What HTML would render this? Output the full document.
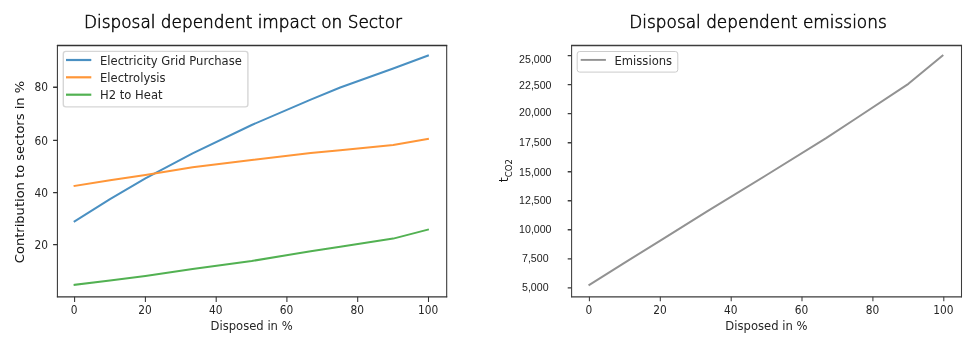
<!DOCTYPE html>
<html lang="en"><head><meta charset="utf-8"><title>Disposal dependent charts</title>
<style>
html,body{margin:0;padding:0;background:#fff;}
body{width:978px;height:343px;overflow:hidden;}
svg{display:block;}
.mp{font-family:"DejaVu Sans","Liberation Sans",sans-serif;font-size:12.5px;fill:#262626;}
.ttl{font-family:"DejaVu Sans Light","DejaVu Sans","Liberation Sans",sans-serif;font-weight:200;font-size:16.92px;fill:#0a0a0a;stroke:#0a0a0a;stroke-width:0.55px;}
.yl{font-family:"DejaVu Sans","Liberation Sans",sans-serif;font-size:13.05px;fill:#111;}
.rt{font-family:"Liberation Sans","DejaVu Sans",sans-serif;font-size:10.6px;fill:#222;}
.ln{fill:none;stroke-linejoin:round;stroke-linecap:square;}
</style></head><body>
<svg width="978" height="343" viewBox="0 0 978 343">
<rect x="0" y="0" width="978" height="343" fill="#ffffff"/>

<text class="ttl" x="84.0" y="27.6">Disposal dependent impact on Sector</text>
<text class="ttl" x="629.3" y="27.6">Disposal dependent emissions</text>
<rect x="57.4" y="45.5" width="389.3" height="251.4" fill="#fff"/>
<path d="M57.4 45.03V297.33M446.7 45.03V297.33" stroke="#333" stroke-width="1.05" fill="none"/>
<path d="M56.88 45.5H447.22M56.88 296.85H447.22" stroke="#333" stroke-width="1.35" fill="none"/>
<path d="M74.6 296.85V301.9M145.4 296.85V301.9M216.2 296.85V301.9M286.9 296.85V301.9M357.7 296.85V301.9M428.5 296.85V301.9" stroke="#333" stroke-width="1.05" fill="none"/>
<path d="M57.4 244.6h-4.3M57.4 192.6h-4.3M57.4 140.3h-4.3M57.4 87.2h-4.3" stroke="#333" stroke-width="1.35" fill="none"/>
<text class="mp" transform="translate(74.2 313.9) scale(0.85 1)" text-anchor="middle">0</text>
<text class="mp" transform="translate(145.0 313.9) scale(0.85 1)" text-anchor="middle">20</text>
<text class="mp" transform="translate(215.8 313.9) scale(0.85 1)" text-anchor="middle">40</text>
<text class="mp" transform="translate(286.5 313.9) scale(0.85 1)" text-anchor="middle">60</text>
<text class="mp" transform="translate(357.3 313.9) scale(0.85 1)" text-anchor="middle">80</text>
<text class="mp" transform="translate(428.1 313.9) scale(0.85 1)" text-anchor="middle">100</text>
<text class="mp" transform="translate(47.9 248.8) scale(0.85 1)" text-anchor="end">20</text>
<text class="mp" transform="translate(47.9 196.8) scale(0.85 1)" text-anchor="end">40</text>
<text class="mp" transform="translate(47.9 144.5) scale(0.85 1)" text-anchor="end">60</text>
<text class="mp" transform="translate(47.9 91.4) scale(0.85 1)" text-anchor="end">80</text>
<text class="mp" transform="translate(251.6 330.0) scale(0.928 1)" text-anchor="middle">Disposed in %</text>
<text class="yl" transform="translate(24.0 172.0) rotate(-90)" text-anchor="middle">Contribution to sectors in %</text>
<polyline class="ln" points="74.6,221.4 110.0,199.1 145.4,178.4 192.6,153.3 251.7,125.0 310.7,99.7 340.2,87.5 393.2,68.5 427.9,55.6" stroke="#4a90c2" stroke-width="2.0"/>
<polyline class="ln" points="74.6,185.9 110.0,180.3 145.4,175.1 192.6,167.3 251.7,160.0 310.7,153.0 340.2,150.3 393.2,145.0 427.9,138.9" stroke="#ff9638" stroke-width="2.0"/>
<polyline class="ln" points="74.6,284.8 110.0,280.6 145.4,276.0 192.6,268.9 251.7,261.0 310.7,251.2 340.2,246.8 393.2,238.6 427.9,229.6" stroke="#52b152" stroke-width="2.0"/>
<rect x="63.3" y="51.4" width="184.6" height="55.5" rx="2.6" ry="2.6" fill="#fff" fill-opacity="0.8" stroke="#d6d6d6" stroke-width="1.4"/>
<path d="M66.0 60.0H91.3" stroke="#4a90c2" stroke-width="2.2" fill="none"/>
<text class="mp" transform="translate(100.0 64.5) scale(0.928 1)" text-anchor="start">Electricity Grid Purchase</text>
<path d="M66.0 77.3H91.3" stroke="#ff9638" stroke-width="2.2" fill="none"/>
<text class="mp" transform="translate(100.0 81.8) scale(0.928 1)" text-anchor="start">Electrolysis</text>
<path d="M66.0 94.7H91.3" stroke="#52b152" stroke-width="2.2" fill="none"/>
<text class="mp" transform="translate(100.0 99.2) scale(0.928 1)" text-anchor="start">H2 to Heat</text>
<rect x="571.6" y="45.5" width="389.9" height="251.4" fill="#fff"/>
<path d="M571.6 45.03V297.33M961.5 45.03V297.33" stroke="#3d3d3d" stroke-width="1.05" fill="none"/>
<path d="M571.08 45.5H962.02M571.08 296.85H962.02" stroke="#3d3d3d" stroke-width="1.35" fill="none"/>
<path d="M589.4 296.85V301.2M660.3 296.85V301.2M731.2 296.85V301.2M802.0 296.85V301.2M872.9 296.85V301.2M943.8 296.85V301.2" stroke="#3d3d3d" stroke-width="1.05" fill="none"/>
<path d="M571.6 287.8h-3.9M571.6 258.8h-3.9M571.6 229.7h-3.9M571.6 200.7h-3.9M571.6 171.7h-3.9M571.6 142.7h-3.9M571.6 113.6h-3.9M571.6 84.6h-3.9M571.6 55.6h-3.9" stroke="#3d3d3d" stroke-width="1.35" fill="none"/>
<text class="mp" transform="translate(589.0 313.9) scale(0.85 1)" text-anchor="middle">0</text>
<text class="mp" transform="translate(659.9 313.9) scale(0.85 1)" text-anchor="middle">20</text>
<text class="mp" transform="translate(730.8 313.9) scale(0.85 1)" text-anchor="middle">40</text>
<text class="mp" transform="translate(801.6 313.9) scale(0.85 1)" text-anchor="middle">60</text>
<text class="mp" transform="translate(872.5 313.9) scale(0.85 1)" text-anchor="middle">80</text>
<text class="mp" transform="translate(943.4 313.9) scale(0.85 1)" text-anchor="middle">100</text>
<text class="mp" transform="translate(766.4 330.0) scale(0.928 1)" text-anchor="middle">Disposed in %</text>
<text class="rt" x="535.3" y="63.0" text-anchor="middle">25,000</text>
<text class="rt" x="535.3" y="88.6" text-anchor="middle">22,500</text>
<text class="rt" x="535.3" y="115.5" text-anchor="middle">20,000</text>
<text class="rt" x="535.3" y="145.8" text-anchor="middle">17,500</text>
<text class="rt" x="535.3" y="175.5" text-anchor="middle">15,000</text>
<text class="rt" x="535.3" y="203.6" text-anchor="middle">12,500</text>
<text class="rt" x="535.3" y="233.0" text-anchor="middle">10,000</text>
<text class="rt" x="535.3" y="261.6" text-anchor="middle">7,500</text>
<text class="rt" x="535.3" y="291.0" text-anchor="middle">5,000</text>
<text transform="translate(508.1 182.3) rotate(-90)" style="font-family:'DejaVu Sans','Liberation Sans',sans-serif;font-size:13px;fill:#111">t<tspan dy="3.9" style="font-size:8.6px">CO2</tspan></text>
<polyline class="ln" points="589.4,284.9 624.8,262.6 660.3,240.6 707.5,211.1 766.6,175.0 825.7,138.3 855.2,119.0 908.4,83.8 942.5,55.6" stroke="#929292" stroke-width="2.0"/>
<rect x="577.2" y="51.5" width="100.6" height="20.6" rx="2.5" ry="2.5" fill="#fff" fill-opacity="0.8" stroke="#cccccc" stroke-width="1"/>
<path d="M580.7 59.9H605.9" stroke="#929292" stroke-width="1.9" fill="none"/>
<text class="mp" transform="translate(614.5 64.6) scale(0.928 1)" text-anchor="start">Emissions</text>
</svg>
</body></html>
